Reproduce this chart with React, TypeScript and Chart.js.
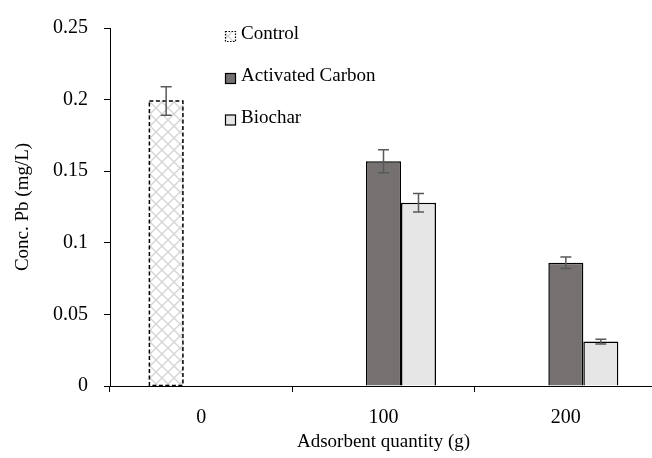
import { useEffect, useRef } from 'react';
import { Chart, registerables } from 'chart.js';

Chart.register(...registerables);

const categories = ['0', '100', '200'];
const seriesNames = ['Control', 'Activated Carbon', 'Biochar'];
const controlValues = [0.199, null, null];
const carbonValues = [null, 0.157, 0.086];
const biocharValues = [null, 0.128, 0.031];
const controlErrors = [0.01, null, null];
const carbonErrors = [null, 0.008, 0.004];
const biocharErrors = [null, 0.0065, 0.0016];
const yTicks = [0, 0.05, 0.1, 0.15, 0.2, 0.25];
const xTitle = 'Adsorbent quantity (g)';
const yTitle = 'Conc. Pb (mg/L)';

const FONT = '"Liberation Serif", "Times New Roman", serif';
const CANVAS_W = 670;
const CANVAS_H = 458;

function makePattern(): CanvasPattern | string {
  const c = document.createElement('canvas');
  c.width = 12;
  c.height = 12;
  const g = c.getContext('2d');
  if (!g) return '#f2f2f2';
  g.fillStyle = '#ffffff';
  g.fillRect(0, 0, 12, 12);
  g.strokeStyle = '#d6d6d6';
  g.lineWidth = 1.4;
  g.beginPath();
  g.moveTo(0, 0);
  g.lineTo(12, 12);
  g.moveTo(12, 0);
  g.lineTo(0, 12);
  g.stroke();
  return g.createPattern(c, 'repeat') || '#f2f2f2';
}

export default function App() {
  const ref = useRef<HTMLCanvasElement | null>(null);

  useEffect(() => {
    if (!ref.current) return;
    const pattern = makePattern();
    const errors = [controlErrors, carbonErrors, biocharErrors];

    const overlayPlugin = {
      id: 'overlay',
      afterDatasetsDraw(chart: any) {
        const ctx = chart.ctx as CanvasRenderingContext2D;
        const y = chart.scales.y;
        ctx.save();
        // dashed border for the control bar
        const m0 = chart.getDatasetMeta(0);
        m0.data.forEach((el: any, i: number) => {
          if (controlValues[i] == null) return;
          const w = el.width;
          ctx.setLineDash([4, 2.5]);
          ctx.strokeStyle = '#000';
          ctx.lineWidth = 1.5;
          ctx.strokeRect(el.x - w / 2 + 0.75, el.y, w - 1.5, el.base - el.y);
        });
        ctx.setLineDash([]);
        // error bars
        ctx.strokeStyle = '#595959';
        ctx.lineWidth = 1.5;
        errors.forEach((errArr, di) => {
          const meta = chart.getDatasetMeta(di);
          const vals = chart.data.datasets[di].data as (number | null)[];
          meta.data.forEach((el: any, i: number) => {
            const v = vals[i];
            const e = errArr[i];
            if (v == null || e == null) return;
            const top = y.getPixelForValue(v + e);
            const bot = y.getPixelForValue(v - e);
            const cap = 5.5;
            ctx.beginPath();
            ctx.moveTo(el.x, top);
            ctx.lineTo(el.x, bot);
            ctx.moveTo(el.x - cap, top);
            ctx.lineTo(el.x + cap, top);
            ctx.moveTo(el.x - cap, bot);
            ctx.lineTo(el.x + cap, bot);
            ctx.stroke();
          });
        });
        ctx.restore();
      },
      afterDraw(chart: any) {
        const ctx = chart.ctx as CanvasRenderingContext2D;
        const area = chart.chartArea;
        const x0 = area.left + 115;
        const rowY = [area.top + 8.5, area.top + 50.5, area.top + 92];
        const s = 11;
        ctx.save();
        ctx.font = `19px ${FONT}`;
        ctx.textBaseline = 'middle';
        ctx.textAlign = 'left';
        chart.data.datasets.forEach((ds: any, i: number) => {
          const cy = rowY[i];
          const bx = x0;
          const by = cy - s / 2;
          if (i === 0) {
            ctx.fillStyle = pattern as any;
            ctx.fillRect(bx, by, s, s);
            ctx.setLineDash([1.5, 1.5]);
            ctx.strokeStyle = '#000';
            ctx.lineWidth = 1.2;
            ctx.strokeRect(bx + 0.5, by + 0.5, s - 1, s - 1);
            ctx.setLineDash([]);
          } else {
            ctx.fillStyle = ds.backgroundColor;
            ctx.fillRect(bx, by, s, s);
            ctx.strokeStyle = '#000';
            ctx.lineWidth = 1.2;
            ctx.strokeRect(bx + 0.5, by + 0.5, s - 1, s - 1);
          }
          ctx.fillStyle = '#000';
          ctx.fillText(ds.label, bx + s + 5, cy - 2);
        });
        ctx.restore();
      },
    };

    const chart = new Chart(ref.current, {
      type: 'bar',
      data: {
        labels: categories,
        datasets: [
          {
            label: seriesNames[0],
            data: controlValues,
            backgroundColor: pattern as any,
            borderWidth: 0,
          },
          {
            label: seriesNames[1],
            data: carbonValues,
            backgroundColor: '#767171',
            borderColor: '#000000',
            borderWidth: 1.5,
          },
          {
            label: seriesNames[2],
            data: biocharValues,
            backgroundColor: '#e7e6e6',
            borderColor: '#000000',
            borderWidth: 1.5,
          },
        ],
      },
      options: {
        responsive: false,
        animation: false,
        maintainAspectRatio: false,
        layout: { padding: { top: 23, right: CANVAS_W - 657, bottom: 0, left: 0 } },
        datasets: {
          bar: { barPercentage: 1, categoryPercentage: 0.576 },
        },
        plugins: {
          legend: { display: false },
          tooltip: { enabled: false },
        },
        scales: {
          x: {
            grid: {
              offset: true,
              drawOnChartArea: false,
              drawTicks: true,
              tickLength: 6,
              color: '#000',
              lineWidth: 1,
            },
            border: { color: '#000', width: 1 },
            ticks: {
              color: '#000',
              font: { family: FONT, size: 20 },
              padding: 14,
              maxRotation: 0,
            },
            title: {
              display: true,
              text: xTitle,
              color: '#000',
              font: { family: FONT, size: 19 },
              padding: { top: 0, bottom: 5 },
            },
            afterFit(scale: any) {
              scale.height = 72;
            },
          },
          y: {
            min: yTicks[0],
            max: yTicks[yTicks.length - 1],
            afterBuildTicks(scale: any) {
              scale.ticks = yTicks.map((v) => ({ value: v }));
            },
            grid: {
              drawOnChartArea: false,
              drawTicks: true,
              tickLength: 6,
              color: '#000',
              lineWidth: 1,
            },
            border: { color: '#000', width: 1 },
            ticks: {
              color: '#000',
              font: { family: FONT, size: 20 },
              padding: 16,
              callback: (v: any) => String(Number(v)),
            },
            title: {
              display: true,
              text: yTitle,
              color: '#000',
              font: { family: FONT, size: 19 },
              padding: { top: 11.5, bottom: 0 },
            },
            afterFit(scale: any) {
              scale.width = 110;
            },
          },
        },
      },
      plugins: [overlayPlugin],
    });
    return () => chart.destroy();
  }, []);

  return (
    <div
      style={{
        position: 'fixed',
        left: 0,
        top: 0,
        width: 652,
        height: 458,
        overflow: 'hidden',
        background: '#fff',
      }}
    >
      <canvas
        ref={ref}
        width={CANVAS_W}
        height={CANVAS_H}
        style={{ width: CANVAS_W, height: CANVAS_H, display: 'block' }}
      />
    </div>
  );
}
